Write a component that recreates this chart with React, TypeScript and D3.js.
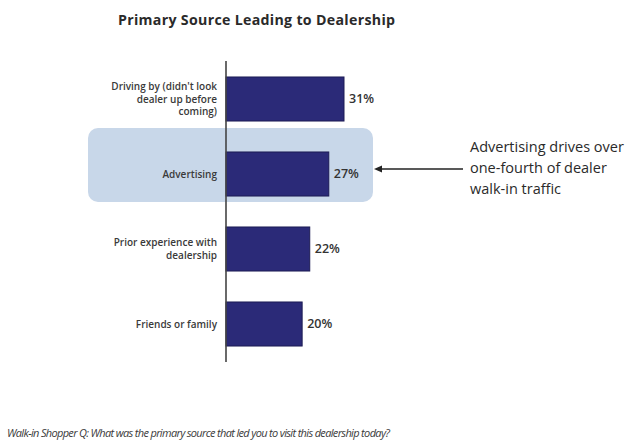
import React from "react";
import * as d3 from "d3";

const categories: string[][] = [
  ["Driving by (didn't look", "dealer up before", "coming)"],
  ["Advertising"],
  ["Prior experience with", "dealership"],
  ["Friends or family"],
];
const values: number[] = [31, 27, 22, 20];
const highlightIndex = 1;
const title = "Primary Source Leading to Dealership";
const annotation = ["Advertising drives over", "one-fourth of dealer", "walk-in traffic"];
const footnote = "Walk-in Shopper Q: What was the primary source that led you to visit this dealership today?";

export default function App() {
  const W = 638, H = 445;
  const x0 = 226;
  const x = d3.scaleLinear().domain([0, 31]).range([x0, 344]);
  const ids = categories.map((_, i) => String(i));
  const y = d3.scaleBand().domain(ids).range([61.5, 361.5]).paddingInner(0.413).paddingOuter(0.2065);
  const bw = y.bandwidth();
  const hTop = y(String(highlightIndex)) as number;
  const hy = hTop + bw / 2;
  const labelFont = "'Open Sans', 'DejaVu Sans', sans-serif";
  return (
    <svg width={W} height={H} style={{ position: "absolute", left: 0, top: 0 }}>
      <rect x={0} y={0} width={W} height={H} fill="#fff" />
      <text x={118} y={25} fontFamily={labelFont} fontWeight={700} fontSize={14.2} fill="#2a2a2a" textLength={277}>
        {title}
      </text>
      <rect x={88} y={hTop - 24} width={285} height={74} rx={10} fill="#c8d7e9" />
      {values.map((v, i) => {
        const yy = y(String(i)) as number;
        const lines = categories[i];
        const cy = yy + bw / 2;
        const lh = 12.5;
        return (
          <g key={i}>
            <rect x={x0} y={yy} width={x(v) - x0} height={bw} fill="#2b2a78" stroke="#1c1b55" strokeWidth={1} />
            <text x={x(v) + 5} y={cy + 4} fontFamily={labelFont} fontWeight={600} fontSize={12.5} fill="#333">
              {v}%
            </text>
            {lines.map((l, j) => (
              <text
                key={j}
                x={217}
                y={cy + (j - (lines.length - 1) / 2) * lh + 3.5}
                textAnchor="end"
                fontFamily={labelFont}
                fontWeight={600}
                fontSize={10}
                fill="#3a3a3a"
              >
                {l}
              </text>
            ))}
          </g>
        );
      })}
      <line x1={x0} x2={x0} y1={61} y2={362} stroke="#444" strokeWidth={1.6} />
      <line x1={463} x2={380} y1={hy - 5} y2={hy - 5} stroke="#222" strokeWidth={1.3} />
      <path d={`M374,${hy - 5} L382,${hy - 8.5} L382,${hy - 1.5} Z`} fill="#222" />
      {annotation.map((l, j) => (
        <text key={j} x={470} y={152 + j * 21} fontFamily={labelFont} fontSize={14.5} fill="#2a2a2a">
          {l}
        </text>
      ))}
      <text x={7} y={437} fontFamily={labelFont} fontStyle="italic" fontWeight={500} fontSize={11} fill="#3a3a3a" textLength={383}>
        {footnote}
      </text>
    </svg>
  );
}
